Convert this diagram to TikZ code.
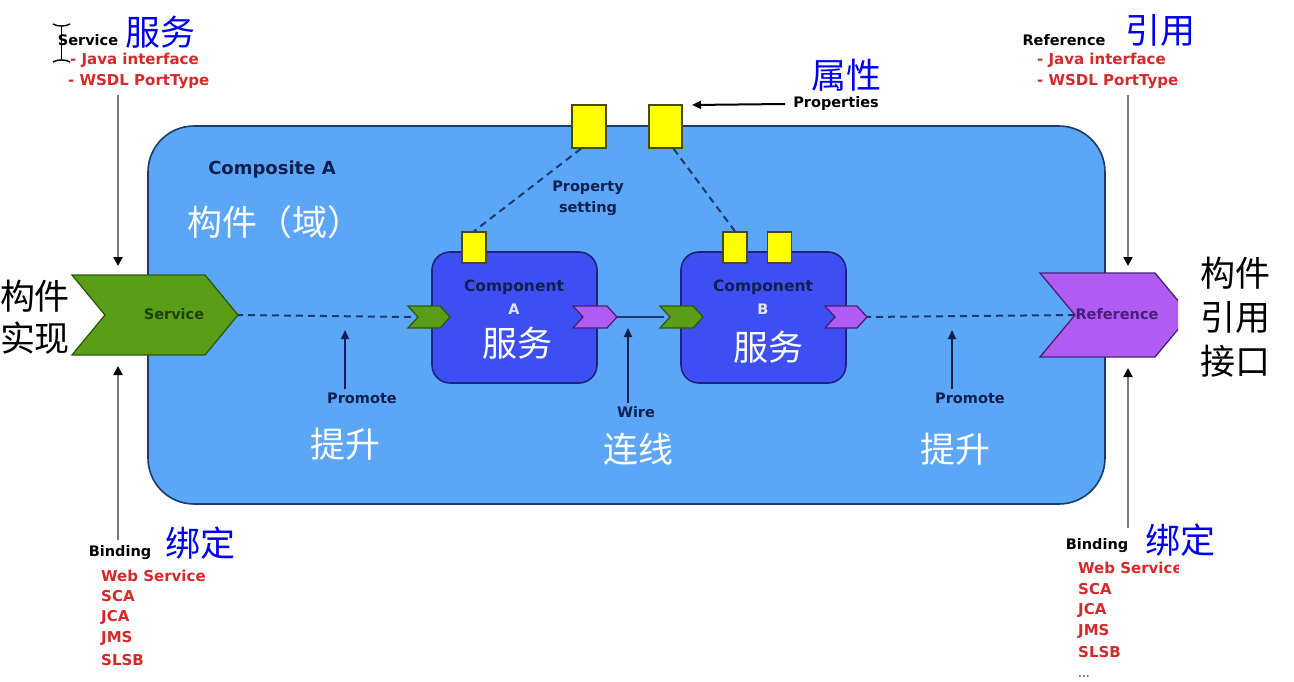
\documentclass[tikz,border=0pt]{standalone}
\usepackage{fontspec}
\setmainfont{DejaVu Sans}
\newfontfamily\cjk{Noto Sans CJK SC}
\usetikzlibrary{arrows.meta,calc}
\definecolor{compfill}{HTML}{5CA6F7}
\definecolor{compline}{HTML}{1B3A6E}
\definecolor{boxfill}{HTML}{3D4FF2}
\definecolor{boxline}{HTML}{1A2580}
\definecolor{grn}{HTML}{5A9E18}
\definecolor{grnline}{HTML}{2C5A0C}
\definecolor{purp}{HTML}{B05CF2}
\definecolor{purpline}{HTML}{4A1F7A}
\definecolor{ylw}{HTML}{FFFF00}
\definecolor{ylwline}{HTML}{4A4A10}
\definecolor{navy}{HTML}{0F1F4F}
\definecolor{listred}{HTML}{D42A2A}
\definecolor{cnblue}{HTML}{0000F0}
\definecolor{greyarr}{HTML}{7A7A7A}
\newcommand\chevshape[7]{%
  \filldraw[fill=#6,draw=#7,line width=1.3pt,line join=miter]
    (#1,{#2-#4/2}) -- ({#1+#3-#5},{#2-#4/2}) -- ({#1+#3},#2) --
    ({#1+#3-#5},{#2+#4/2}) -- (#1,{#2+#4/2}) -- ({#1+#5},#2) -- cycle;}
\begin{document}
\begin{tikzpicture}[x=1pt,y=-1pt,
  en/.style={font=\bfseries\fontsize{14.5}{16}\selectfont,inner sep=0pt,text=navy},
  redtxt/.style={font=\bfseries\fontsize{15}{16}\selectfont,inner sep=0pt,text=listred,anchor=west},
  cn/.style={font=\cjk\fontsize{35}{40}\selectfont,inner sep=0pt},
  cnblue/.style={cn,text=cnblue},
  cnwhite/.style={cn,text=white},
  cnblack/.style={cn,text=black},
  compositebox/.style={draw=compline,fill=compfill,line width=1.6pt,rounded corners=46pt,inner sep=0pt},
  compbox/.style={draw=boxline,fill=boxfill,line width=1.6pt,rounded corners=18pt,inner sep=0pt,minimum width=165pt,minimum height=131pt},
  ybox/.style={draw=ylwline,fill=ylw,line width=1.4pt,inner sep=0pt},
  dashline/.style={draw=compline,line width=2pt,dash pattern=on 7pt off 5pt},
  wireline/.style={draw=compline,line width=2pt},
  greyarrow/.style={draw=greyarr,line width=2.6pt,-{Triangle[length=9pt,width=9pt,color=black]}},
  navyarrow/.style={draw=navy,line width=1.8pt,-{Triangle[length=9pt,width=8pt]}},
]
\useasboundingbox (0,0) rectangle (1294,682);
\fill[white] (0,0) rectangle (1294,682);

\begin{scope}
\clip (0,0) rectangle (1178,682);
% composite
\node[compositebox,minimum width=957pt,minimum height=378pt] (comp) at (626.5,315) {};
\node[en,font=\bfseries\fontsize{18}{20}\selectfont] (compname) at (272,170) {Composite A};
\node[cnwhite] (compcn) at (275,222) {构件（域）};

% components
\node[compbox] (ca) at (514.5,317.5) {};
\node[compbox] (cb) at (763.5,317.5) {};
\node[en,font=\bfseries\fontsize{15.5}{17}\selectfont] (catxt) at (514,287) {Component};
\node[en,text=white!85!boxfill] (catxt2) at (514,309) {A};
\node[en,font=\bfseries\fontsize{15.5}{17}\selectfont] (cbtxt) at (763,287) {Component};
\node[en,text=white!85!boxfill] (cbtxt2) at (763,309) {B};
\node[cnwhite] (cacn) at (517,343) {服务};
\node[cnwhite] (cbcn) at (768,347) {服务};

% property boxes
\node[ybox,minimum width=34pt,minimum height=43pt] (p1) at (589,126.5) {};
\node[ybox,minimum width=33pt,minimum height=43pt] (p2) at (665.5,126.5) {};
\node[ybox,minimum width=24pt,minimum height=31pt] (ya) at (474,247.5) {};
\node[ybox,minimum width=24pt,minimum height=31pt] (yb1) at (735,247.5) {};
\node[ybox,minimum width=24pt,minimum height=31pt] (yb2) at (779.5,247.5) {};
\draw[dashline] (p1.250) -- (ya.north);
\draw[dashline] (p2.290) -- (yb1.north);
\node[en,align=center,font=\bfseries\fontsize{14.5}{21}\selectfont] (propset) at (588,198) {Property\\setting};

% connector coordinates
\coordinate (svcTip) at (236,315);
\coordinate (aIn) at (412,317);
\coordinate (aOut) at (614,317);
\coordinate (bIn) at (664,317);
\coordinate (bOut) at (864,317);
\coordinate (refIn) at (1078,315);
\draw[dashline] (svcTip) -- (aIn);
\draw[wireline] (aOut) -- (bIn);
\draw[dashline] (bOut) -- (refIn);

% chevrons
\chevshape{72}{315}{166}{80}{33}{grn}{grnline}
\node[en,text=grnline!70!black] (svc) at (174,314) {Service};
\chevshape{1040}{315}{150}{84}{35}{purp}{purpline}
\node[en,text=purpline] (ref) at (1117,314) {Reference};
\chevshape{408}{317}{42}{22}{10}{grn}{grnline}
\chevshape{573}{317}{44}{22}{10}{purp}{purpline}
\chevshape{660}{317}{43}{22}{10}{grn}{grnline}
\chevshape{825}{317}{42}{22}{10}{purp}{purpline}

% promote / wire
\node[en] (prom1) at (362,398) {Promote};
\coordinate (prom1top) at (345,330);
\draw[navyarrow] (prom1top |- prom1.north) ++(0,-3) -- (prom1top);
\node[en] (prom2) at (970,398) {Promote};
\coordinate (prom2top) at (952,330);
\draw[navyarrow] (prom2top |- prom2.north) ++(0,-3) -- (prom2top);
\node[en] (wire) at (636,412) {Wire};
\coordinate (wiretop) at (628,328);
\draw[navyarrow] (wiretop |- wire.north) ++(0,-3) -- (wiretop);
\node[cnwhite] (prom1cn) at (345,444) {提升};
\node[cnwhite] (prom2cn) at (955,449) {提升};
\node[cnwhite] (wirecn) at (638,449) {连线};

% properties label
\node[en,text=black] (props) at (836,104) {Properties};
\coordinate (propTip) at (692,105);
\draw[line width=2pt,-{Triangle[length=9pt,width=8pt]}] (props.west) ++(-8,0) -- (propTip);

% top labels
\node[en,text=black] (svclab) at (88,40) {Service};
\node[redtxt] (svcl1) at (70,60) {- Java interface};
\node[redtxt] (svcl2) at (68,82) {- WSDL PortType};
\node[en,text=black] (reflab) at (1064,40) {Reference};
\node[redtxt] (refl1) at (1037,60) {- Java interface};
\node[redtxt] (refl2) at (1037,82) {- WSDL PortType};

% binding labels
\node[en,text=black] (bindl) at (120,553) {Binding};
\node[redtxt] (bl1) at (101,576) {Web Service};
\node[redtxt] (bl2) at (101,596) {SCA};
\node[redtxt] (bl3) at (101,617) {JCA};
\node[redtxt] (bl4) at (101,638) {JMS};
\node[redtxt] (bl5) at (101,660) {SLSB};
\node[en,text=black] (bindr) at (1097,546) {Binding};
\node[redtxt] (br1) at (1078,568) {Web Service};
\node[redtxt] (br2) at (1078,589) {SCA};
\node[redtxt] (br3) at (1078,610) {JCA};
\node[redtxt] (br4) at (1078,631) {JMS};
\node[redtxt] (br5) at (1078,652) {SLSB};
\node[redtxt,text=greyarr,font=\bfseries\fontsize{10}{12}\selectfont] (br6) at (1078,677) {...};

% grey arrows
\coordinate (la1) at (118,95);
\coordinate (la1e) at (118,266);
\coordinate (la2) at (118,540);
\coordinate (la2e) at (118,366);
\coordinate (ra1) at (1128,95);
\coordinate (ra1e) at (1128,266);
\coordinate (ra2) at (1128,528);
\coordinate (ra2e) at (1128,368);
\draw[greyarrow] (la1) -- (la1e);
\draw[greyarrow] (la2) -- (la2e);
\draw[greyarrow] (ra1) -- (ra1e);
\draw[greyarrow] (ra2) -- (ra2e);

% I-beam cursor
\draw[black,line width=1.4pt] (53,24) to[bend right=15] (61.5,26) to[bend right=15] (70,24);
\draw[black,line width=1.4pt] (61.5,26) -- (61.5,60);
\draw[black,line width=1.4pt] (53,62) to[bend left=15] (61.5,60) to[bend left=15] (70,62);
\end{scope}

% Chinese annotations
\node[cnblue] (fuwu) at (160,32) {服务};
\node[cnblue] (yinyong) at (1160,30) {引用};
\node[cnblue] (shuxing) at (846,75) {属性};
\node[cnblue] (bdl) at (200,543) {绑定};
\node[cnblue] (bdr) at (1180,540) {绑定};
\node[cnblack,align=center,font=\cjk\fontsize{35}{42}\selectfont] (impl) at (35,317) {构件\\实现};
\node[cnblack,align=center,font=\cjk\fontsize{35}{44}\selectfont] (refif) at (1235,317) {构件\\引用\\接口};
\end{tikzpicture}
\end{document}
